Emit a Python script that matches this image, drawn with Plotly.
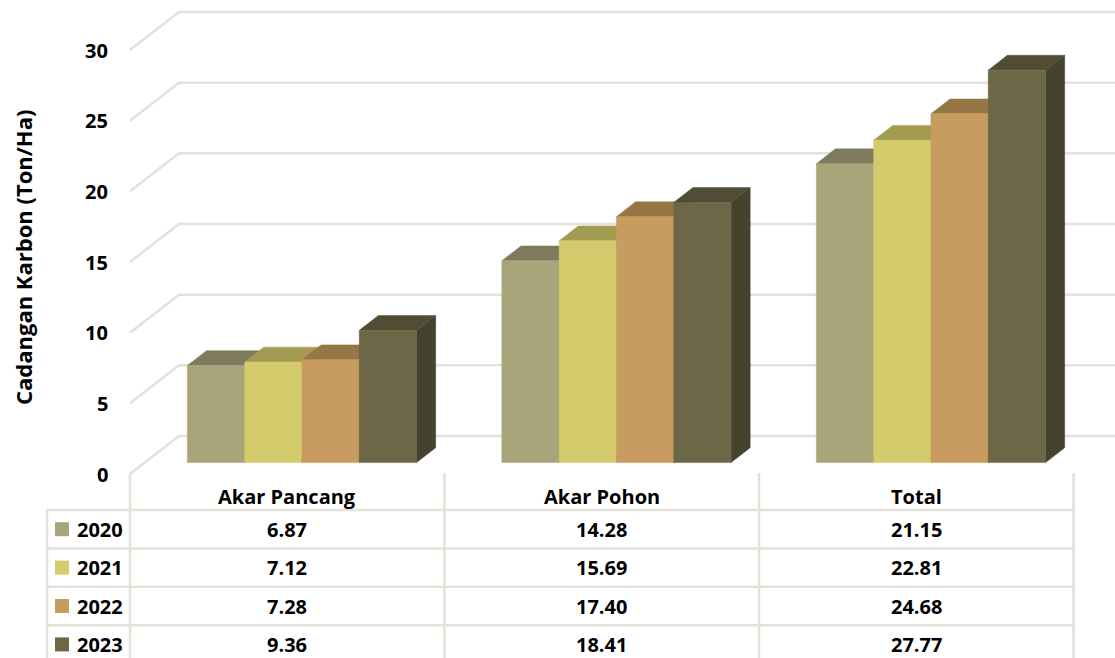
import plotly.graph_objects as go

# ---- data -------------------------------------------------------------
categories = ["Akar Pancang", "Akar Pohon", "Total"]
years = ["2020", "2021", "2022", "2023"]
v2020 = [6.87, 14.28, 21.15]
v2021 = [7.12, 15.69, 22.81]
v2022 = [7.28, 17.40, 24.68]
v2023 = [9.36, 18.41, 27.77]
y_ticks = [0, 5, 10, 15, 20, 25, 30]
axis_title = "Cadangan Karbon (Ton/Ha)"

series = [v2020, v2021, v2022, v2023]
front_colors = ["#A8A57A", "#D4CB6D", "#C89C5E", "#6B6747"]
top_colors = ["#7F7A5C", "#A29B50", "#967645", "#504D34"]
side_colors = ["#6E6A4E", "#8E8845", "#85683C", "#45432E"]
grid_color = "#E4E1D8"
FONT = "Open Sans"

# ---- geometry ---------------------------------------------------------
W, H = 1115, 658
PX_PER_CAT = 314.5
PX_PER_UNIT = 14.133
WALL_LEFT_PX = 130
ZERO_PX = 474


def to_x(px):
    return (px - WALL_LEFT_PX) / PX_PER_CAT - 0.5


def to_paper_y(px):
    return 1 - px / H


x_range = [to_x(0), to_x(W)]
y_range = [(ZERO_PX - H) / PX_PER_UNIT, ZERO_PX / PX_PER_UNIT]

# oblique depth vector from the front edge to the back wall
DEPTH_DX = 49 / PX_PER_CAT
DEPTH_DY = 38 / PX_PER_UNIT
BAR_D0 = 0.30
BAR_D1 = 0.69
BAR_W = 57.3 / PX_PER_CAT

fig = go.Figure()

# ---- walls: left-wall slants and back-wall gridlines -------------------
gx, gy = [], []
for t in y_ticks:
    gx += [-0.5, -0.5 + DEPTH_DX, x_range[1], None]
    gy += [t, t + DEPTH_DY, t + DEPTH_DY, None]
fig.add_trace(go.Scatter(x=gx, y=gy, mode="lines",
                         line=dict(color=grid_color, width=2.5),
                         hoverinfo="skip", showlegend=False))

# ---- 3-D columns ------------------------------------------------------
fx0 = BAR_D0 * DEPTH_DX
fy0 = BAR_D0 * DEPTH_DY
ddx = (BAR_D1 - BAR_D0) * DEPTH_DX
ddy = (BAR_D1 - BAR_D0) * DEPTH_DY


def poly(xs, ys, color, name=None, text=None):
    fig.add_trace(go.Scatter(
        x=xs + [xs[0]], y=ys + [ys[0]], mode="lines", fill="toself",
        fillcolor=color, line=dict(color=color, width=0.5),
        hoverinfo="skip" if text is None else "text",
        hoveron="fills", text=text, name=name, showlegend=False))


for i, cat in enumerate(categories):
    for k, (vals, yr) in enumerate(zip(series, years)):
        v = vals[i]
        x0 = i + fx0 - 2 * BAR_W + k * BAR_W
        x1 = x0 + BAR_W
        yb = fy0
        yt = fy0 + v
        # right side face
        poly([x1, x1, x1 + ddx, x1 + ddx], [yb, yt, yt + ddy, yb + ddy],
             side_colors[k])
        # top face
        poly([x0, x1, x1 + ddx, x0 + ddx], [yt, yt, yt + ddy, yt + ddy],
             top_colors[k])
        # front face
        poly([x0, x1, x1, x0], [yb, yb, yt, yt], front_colors[k],
             name=yr, text=f"{cat} {yr}: {v:.2f}")

# ---- value axis labels -----------------------------------------------
for t in y_ticks:
    fig.add_annotation(x=110 / W, xref="paper", y=t, yref="y",
                       text=f"<b>{t}</b>", showarrow=False,
                       xanchor="right", yanchor="middle",
                       font=dict(family=FONT, size=20, color="#000000"))

fig.add_annotation(x=23 / W, xref="paper", y=to_paper_y(258), yref="paper",
                   text=f"<b>{axis_title}</b>", textangle=-90,
                   showarrow=False, xanchor="center", yanchor="middle",
                   font=dict(family=FONT, size=22, color="#000000"))

# ---- data table --------------------------------------------------------
TABLE_TOP = 473
HEADER_BOTTOM = 510
ROW_H = 38.4
LEGEND_LEFT = 47
TABLE_RIGHT = WALL_LEFT_PX + PX_PER_CAT * len(categories)
line_style = dict(color=grid_color, width=2.5)

# vertical rules between categories
for b in range(len(categories) + 1):
    fig.add_shape(type="line", xref="x", yref="paper",
                  x0=b - 0.5, x1=b - 0.5,
                  y0=to_paper_y(TABLE_TOP), y1=0, line=line_style)
# legend column left rule
fig.add_shape(type="line", xref="paper", yref="paper",
              x0=LEGEND_LEFT / W, x1=LEGEND_LEFT / W,
              y0=to_paper_y(HEADER_BOTTOM), y1=0, line=line_style)
# horizontal rules
for r in range(len(years) + 1):
    ypx = HEADER_BOTTOM + r * ROW_H
    fig.add_shape(type="line", xref="paper", yref="paper",
                  x0=LEGEND_LEFT / W, x1=TABLE_RIGHT / W,
                  y0=to_paper_y(ypx), y1=to_paper_y(ypx), line=line_style)

# header
for i, cat in enumerate(categories):
    fig.add_annotation(x=i, xref="x", y=to_paper_y(496), yref="paper",
                       text=f"<b>{cat}</b>", showarrow=False,
                       xanchor="center", yanchor="middle",
                       font=dict(family=FONT, size=20, color="#000000"))

# rows
for k, (vals, yr) in enumerate(zip(series, years)):
    ymid = to_paper_y(HEADER_BOTTOM + (k + 0.5) * ROW_H)
    fig.add_shape(type="rect", xref="paper", yref="paper",
                  x0=55 / W, x1=69 / W,
                  y0=ymid - 7 / H, y1=ymid + 7 / H,
                  fillcolor=front_colors[k], line=dict(width=0))
    fig.add_annotation(x=75 / W, xref="paper", y=ymid, yref="paper",
                       text=f"<b>{yr}</b>", showarrow=False,
                       xanchor="left", yanchor="middle",
                       font=dict(family=FONT, size=20, color="#000000"))
    for i, v in enumerate(vals):
        fig.add_annotation(x=i, xref="x", y=ymid, yref="paper",
                           text=f"<b>{v:.2f}</b>", showarrow=False,
                           xanchor="center", yanchor="middle",
                           font=dict(family=FONT, size=20, color="#000000"))

fig.update_layout(
    width=W, height=H,
    margin=dict(l=0, r=0, t=0, b=0),
    paper_bgcolor="white", plot_bgcolor="white",
    xaxis=dict(range=x_range, visible=False, fixedrange=True),
    yaxis=dict(range=y_range, visible=False, fixedrange=True),
    showlegend=False,
)

fig.write_html("out.html")
